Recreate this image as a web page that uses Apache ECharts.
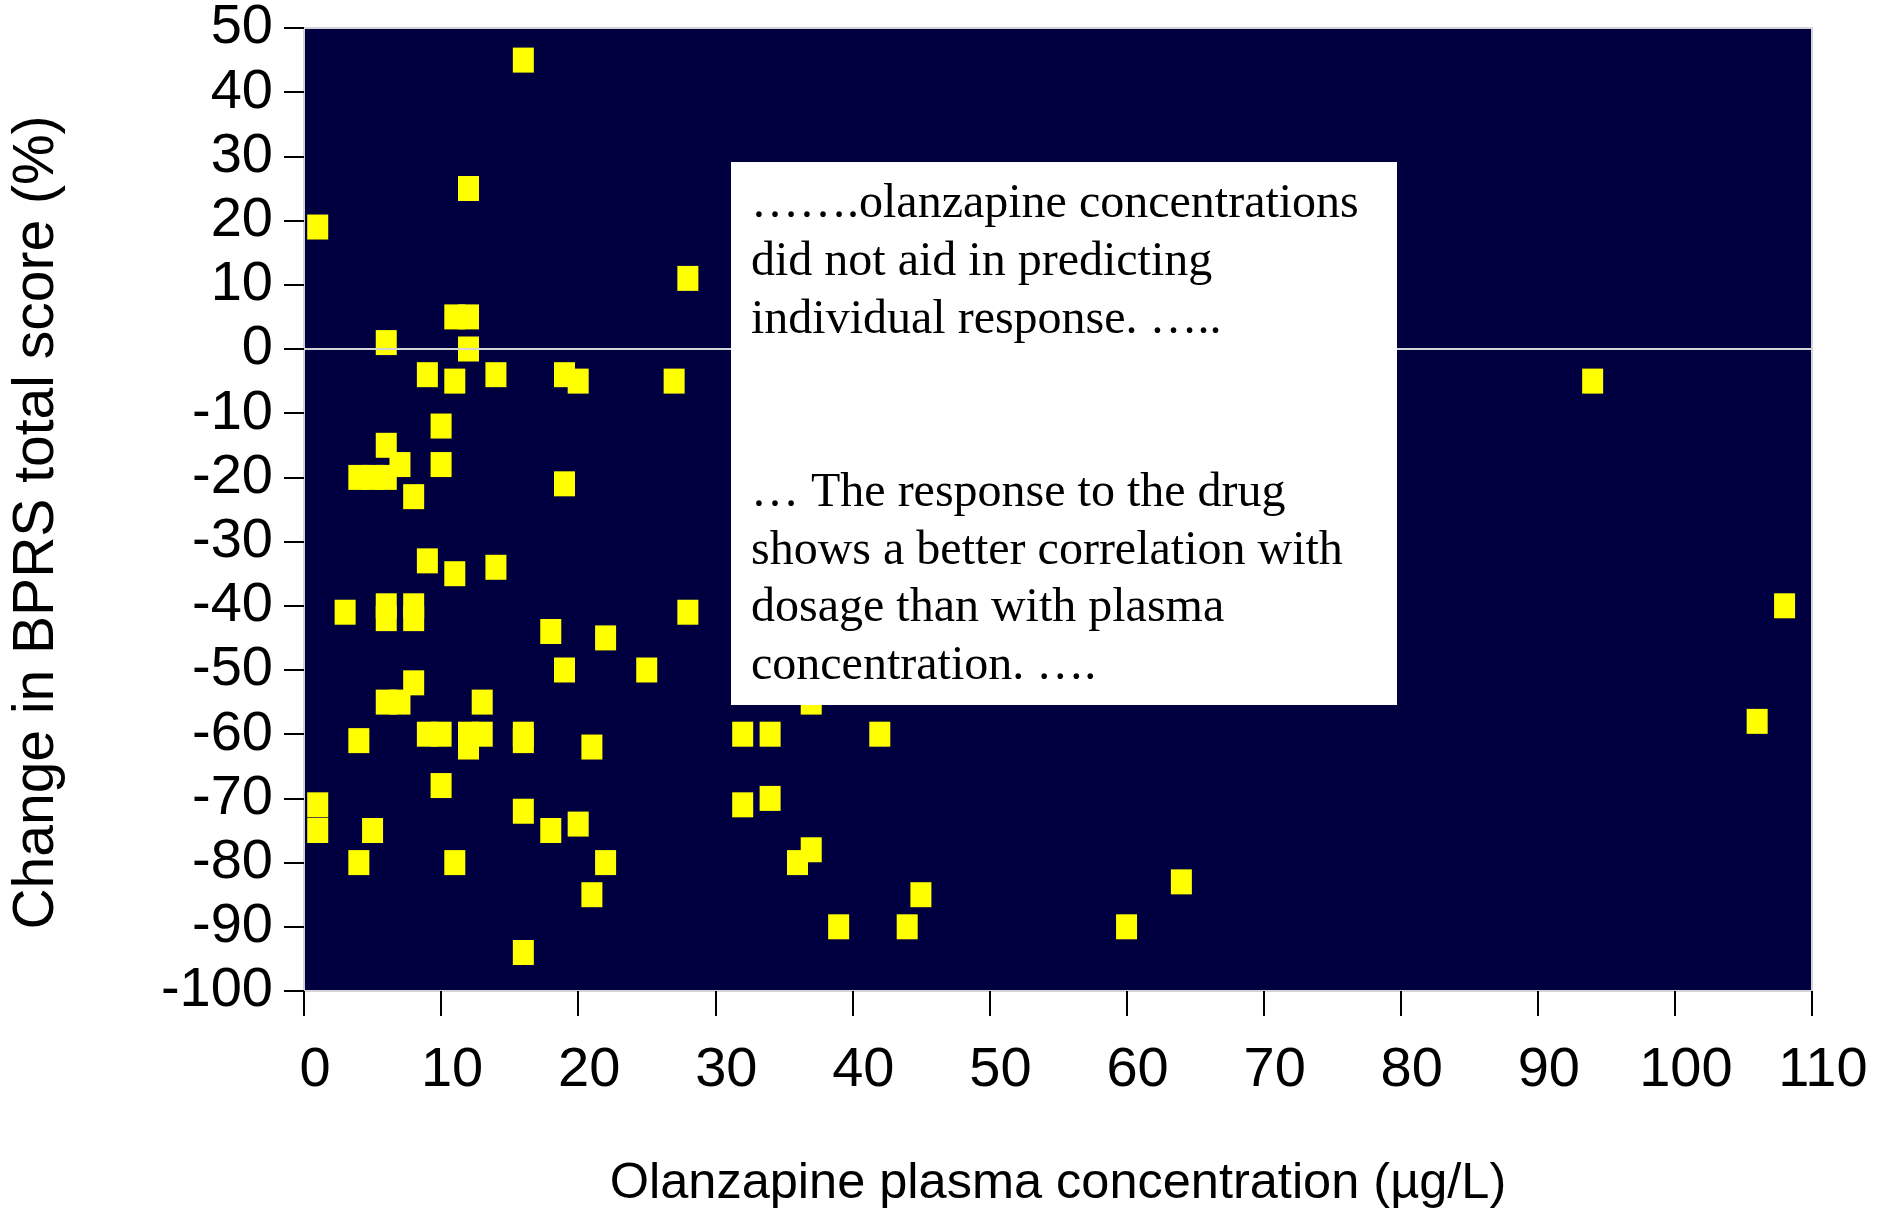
<!DOCTYPE html>
<html>
<head>
<meta charset="utf-8">
<script src="https://cdn.jsdelivr.net/npm/echarts/dist/echarts.min.js"></script>
<style>
  html, body { margin: 0; padding: 0; background: #ffffff; }
  #chart { width: 1888px; height: 1215px; }
</style>
</head>
<body>
<div id="chart"></div>
<script>
// Olanzapine plasma concentration (µg/L)
const xValues = [16, 12, 1, 28, 11, 12, 6, 12, 9, 11, 14, 19, 20, 27, 94,
  10, 6, 7, 10, 4, 5, 6, 8, 19, 9, 11, 14, 3, 6, 6, 8, 8, 28, 18, 22,
  19, 25, 8, 6, 7, 13, 37, 4, 9, 10, 12, 12, 13, 16, 16, 21, 32, 34, 42, 106,
  10, 1, 1, 5, 16, 18, 20, 32, 34, 36, 37, 4, 11, 22, 21, 45, 64, 39, 44, 60, 16, 108];
// Change in BPRS total score (%)
const yValues = [45, 25, 19, 11, 5, 5, 1, 0, -4, -5, -4, -4, -5, -5, -5,
  -12, -15, -18, -18, -20, -20, -20, -23, -21, -33, -35, -34, -41, -40, -42, -40, -42, -41, -44, -45,
  -50, -50, -52, -55, -55, -55, -55, -61, -60, -60, -60, -62, -60, -60, -61, -62, -60, -60, -60, -58,
  -68, -71, -75, -75, -72, -75, -74, -71, -70, -80, -78, -80, -80, -80, -85, -85, -83, -90, -90, -90, -94, -40];

const xAxisTitle = 'Olanzapine plasma concentration (µg/L)';
const yAxisTitle = 'Change in BPRS total score (%)';
const annotationLines = [
  '…….olanzapine concentrations',
  'did not aid in predicting',
  'individual response. …..',
  '',
  '',
  '… The response to the drug',
  'shows a better correlation with',
  'dosage than with plasma',
  'concentration. ….'
];

const sans = '"Liberation Sans", Arial, Helvetica, sans-serif';
const serif = '"Liberation Serif", "Times New Roman", serif';

const chart = echarts.init(document.getElementById('chart'), null, { renderer: 'canvas' });
const option = {
  backgroundColor: '#ffffff',
  animation: false,
  grid: {
    left: 304, right: 76, top: 27, bottom: 224,
    show: true, backgroundColor: '#000040', borderColor: '#d4d4d4', borderWidth: 2
  },
  xAxis: {
    type: 'value', min: 0, max: 110, interval: 10,
    axisLine: { show: false, onZero: false },
    axisTick: { show: true, length: 25, lineStyle: { color: '#000', width: 2 } },
    splitLine: { show: false },
    axisLabel: { fontSize: 56, color: '#000', margin: 52, fontFamily: sans, padding: [0, 0, 0, 22], showMinLabel: true, showMaxLabel: true },
    name: xAxisTitle, nameLocation: 'middle', nameGap: 168,
    nameTextStyle: { fontSize: 50.5, color: '#000', fontFamily: sans }
  },
  yAxis: {
    type: 'value', min: -100, max: 50, interval: 10,
    axisLine: { show: false, onZero: false },
    axisTick: { show: true, length: 20, lineStyle: { color: '#000', width: 2 } },
    splitLine: { show: false },
    axisLabel: { fontSize: 56, color: '#000', margin: 31, fontFamily: sans, showMinLabel: true, showMaxLabel: true },
    name: yAxisTitle, nameLocation: 'middle', nameGap: 238,
    nameTextStyle: { fontSize: 57, color: '#000', fontFamily: sans, padding: [0, 26, 0, 0] }
  },
  series: [{
    type: 'scatter',
    data: xValues.map((x, i) => [x, yValues[i]]),
    symbol: 'rect',
    symbolSize: [21, 25],
    itemStyle: { color: '#ffff00', opacity: 1 },
    emphasis: { disabled: true },
    markLine: {
      silent: true, symbol: 'none', label: { show: false },
      lineStyle: { color: '#d4d4d4', width: 2, type: 'solid', opacity: 1 },
      data: [{ yAxis: 0 }]
    }
  }],
  graphic: [{
    type: 'group', z: 100,
    children: [
      { type: 'rect', z: 100, shape: { x: 731, y: 162, width: 666, height: 543 }, style: { fill: '#ffffff' } },
      { type: 'text', z: 101, x: 751, y: 176,
        style: { text: annotationLines.join('\n'), font: '48px ' + serif, lineHeight: 57.7, fill: '#000', verticalAlign: 'top', align: 'left' } }
    ]
  }]
};
chart.setOption(option);
</script>
</body>
</html>
